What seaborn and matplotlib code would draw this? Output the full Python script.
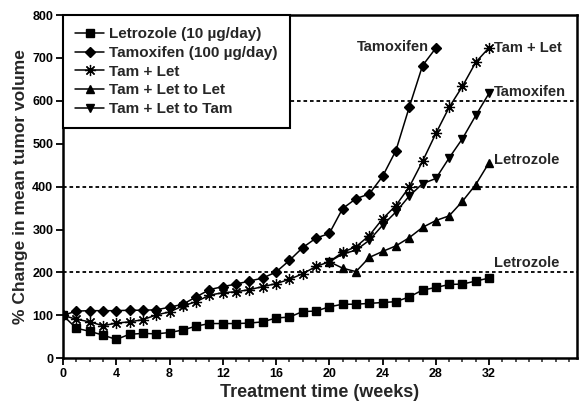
import matplotlib
matplotlib.use("Agg")
import matplotlib.pyplot as plt
from matplotlib.ticker import MultipleLocator
import seaborn as sns
import pandas as pd

# Weekly tumor volume change (% of baseline) for each treatment arm
weeks_letrozole = list(range(0, 33))
letrozole = [100, 70, 63, 54, 44, 56, 58, 57, 60, 66, 75, 81, 81, 81, 82, 85, 94,
             96, 109, 110, 120, 126, 126, 128, 130, 132, 143, 159, 165, 172, 173, 180, 187]

weeks_tamoxifen = list(range(0, 29))
tamoxifen = [100, 110, 111, 111, 111, 112, 112, 113, 119, 126, 143, 160, 167, 173, 180,
             187, 201, 228, 258, 280, 291, 349, 372, 383, 424, 484, 585, 682, 723]

weeks_tam_let = list(range(0, 33))
tam_let = [100, 91, 85, 76, 82, 85, 90, 101, 108, 122, 132, 147, 153, 155, 160, 167, 174,
           184, 197, 214, 225, 247, 260, 286, 325, 356, 399, 459, 524, 585, 634, 690, 724]

weeks_switch = list(range(20, 33))
tam_let_to_let = [225, 210, 202, 235, 249, 262, 281, 305, 321, 332, 366, 405, 456]
tam_let_to_tam = [225, 243, 252, 275, 310, 341, 378, 407, 419, 467, 512, 566, 618]

series_labels = ["Letrozole (10 µg/day)", "Tamoxifen (100 µg/day)", "Tam + Let",
                 "Tam + Let to Let", "Tam + Let to Tam"]

sns.set_theme(style="ticks")
plt.rcParams["font.family"] = ["Liberation Sans", "DejaVu Sans"]
plt.rcParams["font.weight"] = "bold"

fig = plt.figure(figsize=(5.83, 4.08), dpi=100)
ax = fig.add_axes([63 / 583, 1 - 358.3 / 408, (577 - 63) / 583, (358.3 - 15) / 408])

# reference levels
for level in (200, 400, 600):
    ax.axhline(level, color="black", lw=1.3, ls=(0, (2, 1.6)), zorder=0)

styles = [
    (weeks_letrozole, letrozole, "s", 5.5, 1.0),
    (weeks_tamoxifen, tamoxifen, "D", 4.8, 1.0),
    (weeks_tam_let, tam_let, (8, 2, 0), 8.0, 0.9),
    (weeks_switch, tam_let_to_let, "^", 6.0, 1.0),
    (weeks_switch, tam_let_to_tam, "v", 6.0, 1.0),
]

handles = []
for (wk, vals, mk, ms, mew), lab in zip(styles, series_labels):
    df = pd.DataFrame({"week": wk, "change": vals})
    sns.lineplot(data=df, x="week", y="change", ax=ax, color="black", linewidth=1.1,
                 marker=mk, markersize=ms, markeredgewidth=mew,
                 markerfacecolor="black", markeredgecolor="black", legend=False)
    handles.append(ax.lines[-1])

# end-of-curve labels
txt_kw = dict(fontsize=10.5, fontweight="bold", va="center")
ax.text(27.5, 726, "Tamoxifen", ha="right", **txt_kw)
ax.text(32.35, 724, "Tam + Let", ha="left", **txt_kw)
ax.text(32.35, 620, "Tamoxifen", ha="left", **txt_kw)
ax.text(32.35, 461, "Letrozole", ha="left", **txt_kw)
ax.text(32.35, 222, "Letrozole", ha="left", **txt_kw)

ax.set_xlim(0, 38.6)
ax.set_ylim(0, 800)
ax.set_xticks(range(0, 33, 4))
ax.xaxis.set_minor_locator(MultipleLocator(1))
ax.set_yticks(range(0, 801, 100))
ax.tick_params(axis="both", which="major", direction="out", length=5, width=1.3,
               labelsize=9, colors="black", pad=2)
ax.tick_params(axis="x", which="minor", direction="out", length=3, width=1.1)
for lbl in ax.get_xticklabels() + ax.get_yticklabels():
    lbl.set_fontweight("bold")

for sp in ax.spines.values():
    sp.set_visible(True)
    sp.set_color("black")
    sp.set_linewidth(1.8)

ax.set_xlabel("Treatment time (weeks)", fontsize=13, fontweight="bold", labelpad=3)
ax.set_ylabel("% Change in mean tumor volume", fontsize=12.5, fontweight="bold", labelpad=3)

leg = ax.legend(handles, series_labels, loc="upper left", bbox_to_anchor=(0, 1),
                borderaxespad=0, fontsize=11, frameon=True, fancybox=False,
                framealpha=1, edgecolor="black", handlelength=1.9, handletextpad=0.3,
                labelspacing=0.31, borderpad=0.8)
leg.get_frame().set_linewidth(1.5)
for t in leg.get_texts():
    t.set_fontweight("bold")

fig.savefig("out.png", dpi=100, facecolor="white")
